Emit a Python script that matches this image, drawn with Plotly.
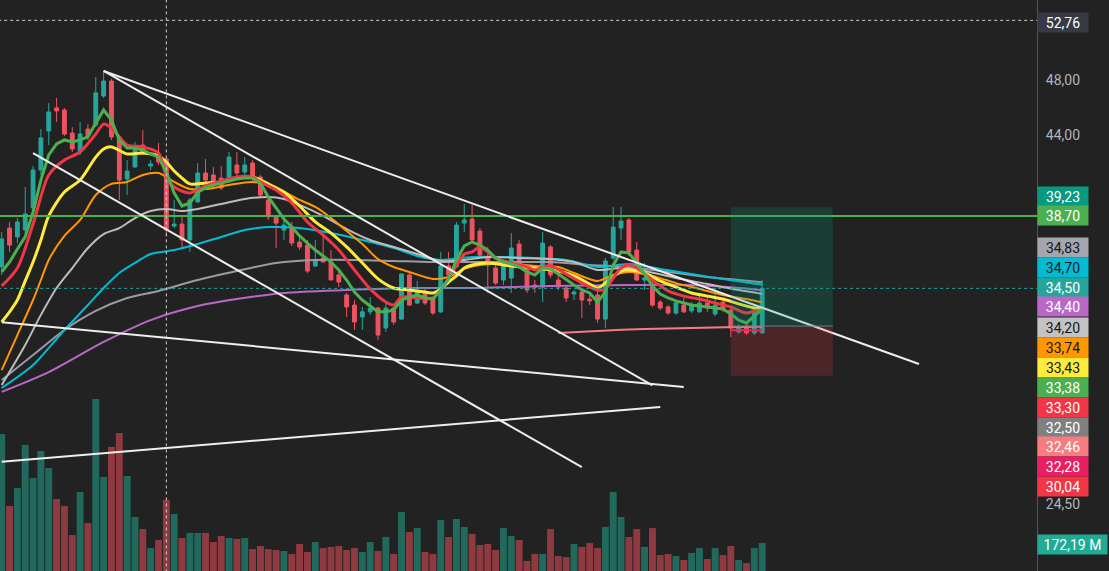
import plotly.graph_objects as go

# ---------------- data ----------------
bar_idx = list(range(98))
open_ = [35.69,37.96,37.43,37.84,39.19,41.62,44.27,45.92,45.77,44.13,
         42.89,44.41,44.69,46.80,47.92,43.86,41.03,41.82,43.30,41.88,
         42.48,42.35,38.08,38.20,37.25,39.57,41.42,41.29,41.09,40.96,
         41.95,41.49,42.08,41.16,39.69,38.64,37.84,38.02,37.13,36.95,
         35.75,36.20,35.97,35.24,34.14,33.60,32.97,33.24,33.44,32.40,
         33.44,32.86,35.24,33.71,34.30,33.98,33.24,35.75,35.69,38.26,
         38.51,37.78,36.20,35.63,34.96,35.07,37.01,35.63,34.68,34.57,
         36.84,34.96,34.52,34.19,34.30,33.92,34.14,32.86,36.20,37.96,
         38.45,36.66,34.96,34.74,33.76,33.50,33.18,33.60,33.29,33.24,
         33.71,33.13,33.76,33.34,32.20,32.50,32.15,32.15]
high = [37.72,38.33,38.57,40.51,41.88,44.41,46.28,46.65,45.92,44.55,
        44.91,44.76,48.23,48.69,48.08,44.00,42.28,43.51,44.34,42.28,
        43.44,42.48,39.69,38.64,39.82,42.08,42.35,41.82,41.88,42.82,
        42.82,42.48,42.28,41.29,39.88,38.76,38.64,38.33,37.37,37.25,
        37.25,37.66,36.66,35.52,34.25,33.87,33.50,34.03,33.50,33.71,
        33.50,35.35,35.35,34.91,34.57,34.03,36.55,36.55,38.33,39.44,
        39.38,37.96,36.84,35.80,35.97,37.66,37.25,35.80,34.96,37.72,
        36.95,35.24,34.68,34.41,34.41,34.25,34.41,36.20,39.25,39.25,
        38.57,37.13,35.92,34.96,33.87,33.60,33.87,33.98,33.76,34.08,
        34.08,34.52,33.98,33.44,32.61,32.61,33.60,34.96]
low = [35.24,36.55,37.07,37.54,38.88,41.29,43.30,44.91,43.93,42.82,
       42.62,43.65,44.55,46.65,43.65,39.69,40.00,41.75,42.62,41.62,
       41.95,37.49,37.96,36.78,36.55,39.50,40.64,40.51,40.32,40.77,
       41.16,41.29,40.77,39.88,38.45,36.78,37.25,36.90,36.66,35.35,
       35.69,35.97,34.96,34.57,32.97,32.30,32.30,33.08,31.79,32.20,
       32.56,32.81,33.55,33.65,33.60,33.08,33.18,35.20,35.63,37.72,
       37.13,36.26,34.25,34.68,34.68,34.25,35.63,34.25,34.25,33.76,
       35.07,34.41,33.76,33.87,32.92,33.60,32.66,32.40,36.09,37.25,
       36.32,34.90,34.41,33.50,33.34,33.08,33.08,33.18,33.18,33.18,
       33.24,33.02,33.24,31.94,32.10,32.04,32.04,32.10]
close = [37.31,36.95,38.33,38.82,41.62,43.79,45.63,45.70,44.06,43.03,
         44.06,43.93,47.03,47.92,43.86,40.96,41.55,43.17,42.82,42.02,
         42.15,37.84,38.20,37.25,39.69,41.42,40.96,40.84,40.45,42.48,
         41.42,41.95,41.16,40.00,38.64,38.26,38.14,37.07,36.84,35.46,
         36.03,35.97,34.96,34.85,33.50,32.71,33.24,33.44,32.04,33.44,
         32.71,35.29,33.60,34.30,33.71,33.18,35.75,35.24,38.14,38.45,
         37.25,36.37,35.80,34.79,35.80,36.78,35.80,34.41,34.57,37.07,
         35.24,34.57,33.98,34.30,33.87,33.82,32.86,36.03,38.02,38.39,
         36.55,34.96,35.07,33.60,33.44,33.18,33.71,33.24,33.60,33.71,
         33.44,33.60,33.39,32.40,32.45,32.15,33.34,34.50]
volume_m = [843,400,510,775,572,738,633,443,400,221,
            486,295,1058,578,763,849,584,332,258,141,
            191,437,351,203,234,234,234,178,215,203,
            197,203,135,154,135,129,123,105,166,117,
            178,141,148,154,129,141,117,178,123,209,
            105,363,240,264,117,105,314,209,320,271,
            228,160,166,129,264,215,191,62,105,105,
            258,92,86,166,148,172,141,271,486,332,
            209,258,148,264,98,105,92,68,111,141,
            74,141,98,154,68,49,141,172.19]

green_val = [35.41,35.97,36.72,37.43,38.94,40.96,42.62,43.37,43.65,43.51,
             43.65,43.86,44.83,45.77,45.05,43.65,43.10,43.10,42.96,42.69,
             42.48,41.49,40.13,39.31,39.50,40.19,40.45,40.64,40.77,40.90,
             41.03,41.09,41.09,40.77,39.88,39.19,38.51,38.02,37.49,37.07,
             36.66,36.32,35.97,35.52,34.96,34.30,33.87,33.55,33.24,33.24,
             33.34,33.87,34.03,34.14,33.98,33.92,34.41,35.02,36.09,36.90,
             37.13,36.95,36.66,36.20,35.97,35.86,35.69,35.41,35.24,35.63,
             35.58,35.29,34.96,34.68,34.41,34.25,33.76,34.30,35.80,36.55,
             36.49,35.92,35.29,34.63,34.19,33.98,33.82,33.71,33.60,33.55,
             33.50,33.44,33.39,33.13,32.81,32.66,33.02,33.38]
red_idx = [0,2,4,6,8,10,12,13,14,16,18,20,21,22,24,26,28,30,32,33,
           35,37,39,41,43,45,47,49,50,51,53,55,56,57,58,59,60,61,63,65,
           67,68,69,70,72,74,76,77,78,79,80,81,83,85,87,89,91,93,95,96,97]
red_val = [34.63,35.63,38.20,41.29,42.28,42.82,44.06,44.76,44.48,43.30,
           43.17,42.75,41.22,40.51,40.13,40.58,40.90,41.16,41.16,40.84,
           40.32,39.50,38.33,37.54,36.66,35.52,34.47,33.76,33.60,34.03,
           33.98,33.98,34.41,35.07,35.75,36.43,36.55,36.84,36.20,35.92,
           35.69,35.52,35.69,35.75,35.29,34.79,34.41,34.47,35.07,35.63,
           35.80,35.63,34.96,34.36,34.08,33.92,33.71,33.50,33.18,33.29,33.30]
yellow_idx = [0,1,2,3,4,5,6,8,10,12,13,14,16,18,20,21,22,23,24,26,
              28,30,32,34,36,38,40,42,44,46,48,50,52,54,55,56,57,58,59,60,
              62,65,68,71,73,75,76,77,78,79,80,82,84,86,88,90,92,94,96,97]
yellow_val = [32.71,33.24,33.87,34.91,35.97,37.25,38.70,40.19,40.96,42.48,
              43.03,43.17,42.69,42.75,42.55,42.15,41.55,41.09,40.71,40.77,
              40.84,41.09,41.16,40.71,40.19,39.31,38.33,37.66,36.84,35.92,
              35.02,34.52,34.41,34.30,34.25,34.47,34.85,35.19,35.63,35.80,
              35.92,35.75,35.63,35.46,35.19,34.74,34.52,34.79,35.13,35.46,
              35.52,35.35,34.91,34.57,34.25,34.08,33.92,33.66,33.44,33.43]
orange_idx = [0,2,4,5,6,8,10,12,14,16,18,20,22,24,26,29,32,35,38,40,
              42,44,46,48,50,52,55,57,59,61,64,68,71,73,76,78,80,83,86,89,
              92,95,97]
orange_val = [30.31,32.04,33.87,34.96,36.09,37.49,38.45,40.00,40.71,40.84,
              41.29,41.42,40.84,40.38,40.38,40.64,40.84,40.45,39.69,39.25,
              38.57,37.78,37.01,36.14,35.69,35.41,35.02,35.13,35.58,35.80,
              35.92,35.75,35.69,35.35,34.91,35.24,35.41,35.19,34.79,34.47,
              34.14,33.92,33.74]
lgrey_idx = [0,3,5,7,9,11,13,15,17,19,21,23,25,28,31,34,36,38,41,44,
             47,50,53,56,59,62,66,70,73,76,79,82,86,90,94,97]
lgrey_val = [29.60,31.54,33.08,34.52,35.63,36.78,37.60,37.96,38.57,39.00,
             39.13,39.00,39.13,39.44,39.75,39.88,39.75,39.38,38.70,37.90,
             37.25,36.84,36.43,36.03,36.09,36.26,36.20,36.14,35.97,35.52,
             35.63,35.46,35.07,34.74,34.41,34.20]
grey_idx = [0,4,8,12,16,20,25,30,35,40,45,50,55,60,65,70,75,80,85,90,94,97]
grey_val = [29.84,31.04,32.30,33.29,33.98,34.36,34.96,35.46,35.92,36.09,
            36.09,36.03,35.97,35.97,35.97,35.97,35.80,35.69,35.41,35.13,34.96,34.83]
cyan_idx = [0,4,8,11,13,15,17,19,22,25,28,31,34,38,42,46,50,53,56,60,
            64,68,72,76,80,84,88,92,97]
cyan_val = [29.46,30.55,32.30,33.60,34.52,35.35,35.92,36.43,36.66,37.01,
            37.43,37.84,38.02,37.96,37.66,37.25,36.78,36.32,36.09,36.26,
            36.26,36.20,36.09,35.69,35.86,35.58,35.29,35.02,34.70]
purple_idx = [0,6,13,19,25,30,36,44,52,60,70,80,88,94,97]
purple_val = [29.28,30.21,31.69,32.81,33.55,33.92,34.25,34.41,34.52,34.52,
              34.63,34.68,34.68,34.52,34.40]
salmon_idx = [71,76,82,88,94,97]
salmon_val = [32.15,32.25,32.35,32.40,32.45,32.46]
pink_idx = [93,94,95,96,97]
pink_val = [32.28,32.28,32.28,32.28,32.28]

# drawings (bar index, price)
trend_lines = [
    ([13, 117], [48.69, 30.60]),
    ([13, 83], [48.69, 29.58]),
    ([4, 74], [42.74, 25.99]),
    ([0, 87], [32.70, 29.51]),
    ([0, 84], [26.21, 28.59]),
]
level_line = 38.70
last_price = 34.50
cross_price = 52.76
cross_bar = 21
pos_left, pos_right = 93, 106
pos_entry, pos_target, pos_stop = 32.50, 39.23, 30.04

labels = ["52,76", "39,23", "38,70", "34,83", "34,70", "34,50", "34,40", "34,20",
          "33,74", "33,43", "33,38", "33,30", "32,50", "32,46", "32,28", "30,04"]
label_bg = ["#363a45", "#089981", "#4caf50", "#a3a6ae", "#00bcd4", "#26a69a", "#ba68c8", "#c3c3c3",
            "#ff9800", "#ffeb3b", "#4caf50", "#f23645", "#808080", "#f77c80", "#e91e63", "#f23645"]
label_fg = ["#ffffff", "#ffffff", "#ffffff", "#131722", "#131722", "#ffffff", "#ffffff", "#131722",
            "#131722", "#131722", "#ffffff", "#ffffff", "#ffffff", "#ffffff", "#ffffff", "#ffffff"]
label_ypx = [22.7, 196.7, 216, 248, 267.7, 287.3, 306.7, 327,
             347.7, 367.7, 387.3, 407.3, 427, 446.7, 466.7, 486]
vol_label = "172,19 M"

# ---------------- figure ----------------
W, H = 1109, 571
BG = "#222222"
UP, DN = "#26a69a", "#ef5361"
VUP, VDN = "#22695d", "#8f3a40"

fig = go.Figure()

vol_colors = [VUP if c >= o else VDN for o, c in zip(open_, close)]
fig.add_trace(go.Bar(x=bar_idx, y=volume_m, marker_color=vol_colors,
                     marker_line_width=0, yaxis="y", hoverinfo="skip"))

fig.add_trace(go.Candlestick(
    x=bar_idx, open=open_, high=high, low=low, close=close, yaxis="y2",
    increasing=dict(line=dict(color=UP, width=1), fillcolor=UP),
    decreasing=dict(line=dict(color=DN, width=1), fillcolor=DN),
    whiskerwidth=0))

def ma(xs, ys, color, width, smooth=True):
    fig.add_trace(go.Scatter(
        x=xs, y=ys, mode="lines", yaxis="y2", hoverinfo="skip",
        line=dict(color=color, width=width,
                  shape="spline" if smooth else "linear", smoothing=0.8)))

ma(purple_idx, purple_val, "#ba68c8", 2)
ma(grey_idx, grey_val, "#9a9ca3", 2)
ma(cyan_idx, cyan_val, "#00bcd4", 2)
ma(lgrey_idx, lgrey_val, "#bdbdbd", 2)
ma(salmon_idx, salmon_val, "#f77c80", 2)
ma(pink_idx, pink_val, "#e91e63", 2)
ma(orange_idx, orange_val, "#ff9800", 2)
ma(yellow_idx, yellow_val, "#ffeb3b", 3)
ma(red_idx, red_val, "#f23645", 3)
ma(bar_idx, green_val, "#4caf50", 3, smooth=False)

XL, XR = -1.7 / 7.84, (1037 - 1.7) / 7.84

def hline(price, color, width, dash="solid"):
    fig.add_trace(go.Scatter(x=[XL - 1, XR + 1], y=[price, price], mode="lines",
                             yaxis="y2", hoverinfo="skip",
                             line=dict(color=color, width=width, dash=dash)))

hline(level_line, "#4caf50", 2)
hline(last_price, "#26a69a", 1, "dot")
hline(cross_price, "#d0d0d0", 1, "dot")
fig.add_trace(go.Scatter(x=[cross_bar, cross_bar], y=[20, 60], mode="lines", yaxis="y2",
                         hoverinfo="skip", line=dict(color="#d0d0d0", width=1, dash="dot")))

for xs, ys in trend_lines:
    fig.add_trace(go.Scatter(x=xs, y=ys, mode="lines", yaxis="y2", hoverinfo="skip",
                             line=dict(color="#eeeeee", width=2)))

# long position box
fig.add_trace(go.Scatter(
    x=[pos_left, pos_right, pos_right, pos_left, pos_left],
    y=[pos_entry, pos_entry, pos_target, pos_target, pos_entry],
    mode="lines", fill="toself", fillcolor="rgba(8,153,129,0.22)",
    line=dict(width=0), yaxis="y2", hoverinfo="skip"))
fig.add_trace(go.Scatter(
    x=[pos_left, pos_right, pos_right, pos_left, pos_left],
    y=[pos_stop, pos_stop, pos_entry, pos_entry, pos_stop],
    mode="lines", fill="toself", fillcolor="rgba(242,54,69,0.2)",
    line=dict(width=0), yaxis="y2", hoverinfo="skip"))
fig.add_trace(go.Scatter(x=[pos_left, pos_right], y=[pos_entry, pos_entry], mode="lines",
                         yaxis="y2", hoverinfo="skip", line=dict(color="#787b86", width=1)))

FONT = "Roboto, 'Open Sans', sans-serif"
ann = []
for t, bg, fg, yp in zip(labels, label_bg, label_fg, label_ypx):
    ann.append(dict(xref="paper", yref="paper", x=1.0, y=1 - yp / H,
                    xanchor="left", yanchor="middle", text=t, showarrow=False,
                    bgcolor=bg, font=dict(color=fg, size=14, family=FONT),
                    width=46, height=15, borderpad=2, align="center"))
ann.append(dict(xref="paper", yref="paper", x=1.0, y=1 - 544.3 / H,
                xanchor="left", yanchor="middle", text=vol_label, showarrow=False,
                bgcolor="#22ab94", font=dict(color="#ffffff", size=14, family=FONT),
                width=65, height=15, borderpad=2, align="center"))

fig.update_layout(
    width=W, height=H, margin=dict(l=0, r=72, t=0, b=0),
    paper_bgcolor=BG, plot_bgcolor=BG, showlegend=False, bargap=0.12,
    font=dict(family=FONT),
    xaxis=dict(range=[XL, XR], showgrid=False, zeroline=False, showticklabels=False,
               rangeslider=dict(visible=False), fixedrange=True),
    yaxis=dict(range=[0, 3511], visible=False, fixedrange=True),
    yaxis2=dict(type="log", range=[1.34329, 1.73630], overlaying="y", side="right",
                showgrid=False, zeroline=False, showline=True, linecolor="#555555",
                linewidth=1, tickvals=[48, 44, 24.5], ticktext=["48,00", "44,00", "24,50"],
                tickfont=dict(color="#b2b5be", size=14, family=FONT),
                ticks="outside", ticklen=5, tickcolor="rgba(0,0,0,0)"),
    annotations=ann,
)

fig.write_html("out.html", config={"displayModeBar": False},
               post_script="document.body.style.margin='0';document.body.style.background='#222222';")
